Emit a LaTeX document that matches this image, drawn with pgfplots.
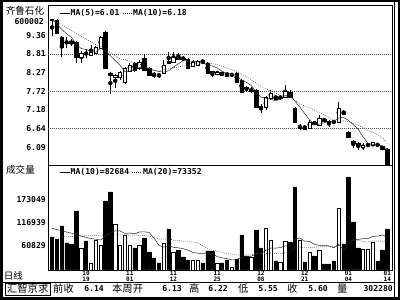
\documentclass[border=0pt]{standalone}
\usepackage{pgfplots}
\pgfplotsset{compat=1.18}
\usepackage{pgfplotstable}
\usepackage{fontspec}
\newfontfamily\cjk{Noto Sans CJK SC}
\newfontfamily\numfont{DejaVu Sans Mono}
\newcommand\nf{\numfont\bfseries\fontsize{8.1}{9}\selectfont}
\newcommand\tf{\numfont\bfseries\fontsize{6}{5.3}\selectfont}
\newcommand\cf{\cjk\fontsize{9.6}{10}\selectfont}

\pgfplotstableread{
i o h l c v ma5 ma10 vma10 vma20
0 9.83 9.84 9.33 9.80 82789 9.83 9.83 104000 82000
1 9.80 9.83 9.40 9.42 77909 9.68 9.75 101000 82500
2 9.31 9.34 8.72 9.01 109629 9.53 9.67 98000 83000
3 9.16 9.31 8.99 9.13 68149 9.40 9.58 95000 83500
4 9.19 9.25 9.04 9.13 65709 9.30 9.50 92000 84000
5 9.16 9.19 8.55 8.72 146229 9.09 9.42 89000 84500
6 8.72 8.90 8.55 8.84 55949 8.97 9.33 85000 85000
7 8.87 8.96 8.69 8.84 73029 8.94 9.25 82000 85500
8 8.78 9.07 8.75 8.87 19349 8.89 9.17 79000 86000
9 8.84 9.04 8.81 9.01 75469 8.86 9.08 77421 86500
10 8.99 9.34 8.96 9.31 63269 8.98 9.03 75469 87000
11 9.45 9.48 8.37 8.40 170629 8.89 8.93 84741 87500
12 8.26 8.28 7.64 8.20 192589 8.76 8.85 93037 88000
13 8.14 8.23 7.82 8.20 114509 8.62 8.76 97673 88000
14 8.14 8.31 8.05 8.28 63269 8.48 8.67 97429 88000
15 7.99 8.43 7.93 8.40 87669 8.30 8.64 91573 87800
16 8.31 8.55 8.28 8.49 63269 8.31 8.60 92305 87500
17 8.55 8.58 8.28 8.34 55949 8.34 8.55 90597 87000
18 8.40 8.64 8.34 8.58 63269 8.42 8.52 94989 86700
19 8.69 8.81 8.31 8.34 80349 8.43 8.45 95477 86449
20 8.40 8.43 8.17 8.20 46189 8.39 8.34 93769 84619
21 8.26 8.28 8.11 8.20 31549 8.33 8.32 79861 82301
22 8.23 8.26 8.11 8.17 19349 8.30 8.32 62537 77787
23 8.26 8.64 8.23 8.49 68149 8.28 8.35 57901 77787
24 8.61 8.87 8.52 8.55 102309 8.32 8.38 61805 79617
25 8.58 8.87 8.55 8.72 46189 8.43 8.41 57657 74615
26 8.72 8.84 8.64 8.66 51069 8.52 8.43 56437 74371
27 8.69 8.72 8.64 8.66 33989 8.62 8.46 54241 72419
28 8.66 8.69 8.37 8.40 26669 8.60 8.44 50581 72785
29 8.46 8.64 8.43 8.58 26669 8.60 8.46 45213 70345
30 8.49 8.64 8.46 8.61 26669 8.58 8.50 43261 68515
31 8.64 8.66 8.52 8.55 19349 8.56 8.54 42041 60951
32 8.55 8.58 8.23 8.26 48629 8.48 8.55 44969 53753
33 8.29 8.31 8.14 8.27 48629 8.46 8.53 43017 50459
34 8.23 8.31 8.20 8.28 19349 8.40 8.50 34721 48263
35 8.28 8.29 8.17 8.20 19349 8.31 8.45 32037 44847
36 8.26 8.28 8.14 8.17 26669 8.24 8.40 29597 43017
37 8.19 8.26 8.14 8.20 9589 8.23 8.35 27157 40699
38 8.26 8.28 7.96 7.99 29109 8.17 8.31 27401 38991
39 8.05 8.08 7.67 7.70 87669 8.05 8.22 33501 39357
40 7.85 7.88 7.70 7.82 36429 7.98 8.15 34477 38869
41 7.73 7.85 7.67 7.76 33989 7.89 8.06 35941 38991
42 7.76 7.79 7.23 7.26 99869 7.70 7.96 41065 43017
43 7.29 7.35 7.09 7.23 55949 7.55 7.86 41797 42407
44 7.26 7.58 7.17 7.55 104749 7.52 7.79 50337 42529
45 7.52 7.76 7.47 7.67 75469 7.49 7.73 55949 43993
46 7.58 7.61 7.47 7.50 24229 7.44 7.67 55705 42651
47 7.52 7.61 7.47 7.55 21789 7.50 7.60 56925 42041
48 7.55 7.90 7.52 7.73 73029 7.60 7.57 61317 44359
49 7.70 7.76 7.52 7.55 70589 7.60 7.56 59609 46555
50 7.23 7.26 6.79 6.82 204789 7.43 7.46 76445 55461
51 6.65 6.77 6.59 6.68 75469 7.26 7.35 80593 58267
52 6.71 6.74 6.59 6.62 21789 7.07 7.29 72785 56925
53 6.65 6.88 6.62 6.82 46189 6.89 7.25 71809 56803
54 6.82 6.85 6.74 6.77 36429 6.74 7.17 64977 57657
55 6.74 7.03 6.71 6.94 51069 6.76 7.10 62537 59243
56 6.91 6.94 6.82 6.85 16909 6.80 7.03 61805 58755
57 6.85 6.88 6.68 6.82 16909 6.84 6.96 61317 59121
58 6.85 6.88 6.77 6.82 24229 6.85 6.87 56437 58877
59 6.82 7.41 6.79 7.23 153549 6.94 6.84 64733 62171
60 7.14 7.17 7.03 7.06 65709 6.96 6.86 50825 63635
61 6.53 6.56 6.36 6.39 229189 6.87 6.84 66197 73395
62 6.27 6.30 6.06 6.21 119389 6.75 6.79 75957 74371
63 6.21 6.24 6.01 6.15 55949 6.61 6.73 76933 74371
64 6.08 6.20 6.01 6.14 53509 6.39 6.66 78641 71809
65 6.13 6.20 6.10 6.15 53509 6.20 6.58 78885 70711
66 6.15 6.22 6.12 6.22 70589 6.17 6.52 84253 73029
67 6.18 6.20 6.11 6.13 24229 6.15 6.45 84985 73151
68 6.10 6.12 6.00 6.03 51069 6.13 6.37 87669 72053
69 6.03 6.06 5.55 5.60 102309 6.02 6.20 82545 73639
}\kdata

\begin{document}
\begin{tikzpicture}
\useasboundingbox (0pt,0pt) rectangle (400pt,300pt);
\fill[white] (0pt,0pt) rectangle (400pt,300pt);
\pgfplotsset{
  pricepanel/.style={scale only axis, width=344pt, height=160pt, anchor=south west,
    at={(48pt,135pt)}, xmin=-0.823, xmax=69.96, ymin=5.568, ymax=10.241,
    axis line style={line width=0.8pt}},
  volpanel/.style={scale only axis, width=344pt, height=105pt, anchor=south west,
    at={(48pt,30pt)}, xmin=-0.823, xmax=69.96, ymin=2269, ymax=258469,
    axis line style={line width=0.8pt}, scaled y ticks=false},
  blank/.style={axis lines=none, xtick=\empty, ytick=\empty},
}
% price: grid, labels, wicks
\begin{axis}[pricepanel,
  ytick={9.36,8.81,8.27,7.72,7.18,6.64,6.09},
  yticklabels={9.36,8.81,8.27,7.72,7.18,6.64,6.09},
  major tick length=0pt, xtick=\empty,
  yticklabel style={font=\nf, inner sep=0pt, xshift=-2pt},
  extra y ticks={8.81,7.72,6.64}, extra y tick labels={},
  extra y tick style={ymajorgrids=true,
    major grid style={black!70, line width=0.5pt, dash pattern=on 0.8pt off 1.2pt}}]
\addplot[black, only marks, mark=none, error bars/.cd, y dir=both, y explicit,
  error mark=none, error bar style={line width=0.6pt, black}]
  table[x=i, y expr={(\thisrow{h}+\thisrow{l})/2}, y error expr={(\thisrow{h}-\thisrow{l})/2}] {\kdata};
\end{axis}
% price: bodies
\begin{axis}[pricepanel, blank, ybar stacked, bar width=3.4pt]
\addplot[draw=none, fill=none] table[x=i, y expr={min(\thisrow{o},\thisrow{c})}] {\kdata};
\addplot[fill=black, draw=black, line width=0.6pt] table[x=i, y expr={\thisrow{o}>\thisrow{c} ? \thisrow{o}-\thisrow{c} : 0}] {\kdata};
\addplot[fill=white, draw=black, line width=0.6pt] table[x=i, y expr={\thisrow{c}>=\thisrow{o} ? \thisrow{c}-\thisrow{o} : 0}] {\kdata};
\end{axis}
% price: moving averages
\begin{axis}[pricepanel, blank]
\addplot[black!85, line width=0.5pt, mark=none] table[x=i, y=ma5] {\kdata};
\addplot[black!75, line width=0.6pt, mark=none, dash pattern=on 0.7pt off 1.3pt] table[x=i, y=ma10] {\kdata};
\end{axis}
% volume
\begin{axis}[volpanel,
  ytick={60829,116939,173049}, yticklabels={60829,116939,173049},
  major tick length=0pt,
  yticklabel style={font=\nf, inner sep=0pt, xshift=-2pt},
  xtick={-1.2,7,16,25,34,43,52,61,69},
  xticklabels={{10\\08},{10\\19},{11\\01},{11\\12},{11\\25},{12\\08},{12\\21},{01\\04},{01\\14}},
  xticklabel style={font=\tf, align=center, inner sep=0pt, yshift=-1.2pt}]
\addplot[ybar, bar width=3.4pt, bar shift=0pt, fill=black, draw=black, line width=0.6pt]
  table[x=i, y expr={\thisrow{o}>\thisrow{c} ? \thisrow{v} : 0}] {\kdata};
\addplot[ybar, bar width=3.4pt, bar shift=0pt, fill=white, draw=black, line width=0.6pt]
  table[x=i, y expr={\thisrow{c}>=\thisrow{o} ? \thisrow{v} : 0}] {\kdata};
\end{axis}
\begin{axis}[volpanel, blank]
\addplot[black!85, line width=0.5pt, mark=none] table[x=i, y=vma10] {\kdata};
\addplot[black!75, line width=0.6pt, mark=none, dash pattern=on 0.7pt off 1.3pt] table[x=i, y=vma20] {\kdata};
\end{axis}
\begin{scope}[x=1pt,y=1pt]
% legends
\draw[line width=0.6pt] (60,287)--(70,287);
\node[anchor=west, inner sep=0pt] at (70.5,287) {\nf MA(5)=6.01};
\draw[line width=0.6pt, dash pattern=on 0.7pt off 1.3pt] (123,287)--(132,287);
\node[anchor=west, inner sep=0pt] at (133,287) {\nf MA(10)=6.18};
\draw[line width=0.6pt] (60,128)--(70,128);
\node[anchor=west, inner sep=0pt] at (70.5,128) {\nf MA(10)=82684};
\draw[line width=0.6pt, dash pattern=on 0.7pt off 1.3pt] (132,128)--(142,128);
\node[anchor=west, inner sep=0pt] at (143,128) {\nf MA(20)=73352};
% left labels
\node[inner sep=0pt] at (25,289) {\cf 齐鲁石化};
\node[anchor=east, inner sep=0pt] at (44,278) {\nf 600002};
\node[inner sep=0pt] at (20.5,130.5) {\cf 成交量};
\node[inner sep=0pt] at (13.5,24.5) {\cf 日线};
% bottom row
\draw[line width=0.8pt] (2,18)--(395,18);
\draw[line width=0.8pt] (5,4.5) rectangle (50.5,17);
\node[inner sep=0pt] at (27.7,11) {\cjk\fontsize{10.3}{11}\selectfont 汇智京求};
\node[anchor=west, inner sep=0pt] at (53,11) {\cjk\fontsize{10.3}{11}\selectfont 前收};
\node[anchor=east, inner sep=0pt] at (104,11) {\nf 6.14};
\node[anchor=west, inner sep=0pt] at (112,11) {\cjk\fontsize{10.3}{11}\selectfont 本周开};
\node[anchor=east, inner sep=0pt] at (182,11) {\nf 6.13};
\node[anchor=west, inner sep=0pt] at (189,11) {\cjk\fontsize{10.3}{11}\selectfont 高};
\node[anchor=east, inner sep=0pt] at (228,11) {\nf 6.22};
\node[anchor=west, inner sep=0pt] at (238,11) {\cjk\fontsize{10.3}{11}\selectfont 低};
\node[anchor=east, inner sep=0pt] at (278,11) {\nf 5.55};
\node[anchor=west, inner sep=0pt] at (287,11) {\cjk\fontsize{10.3}{11}\selectfont 收};
\node[anchor=east, inner sep=0pt] at (328,11) {\nf 5.60};
\node[anchor=west, inner sep=0pt] at (337,11) {\cjk\fontsize{10.3}{11}\selectfont 量};
\node[anchor=east, inner sep=0pt] at (393,11) {\nf 302280};
% frame
\draw[line width=2.5pt] (1.25,1.25) rectangle (398.75,298.75);
\draw[line width=0.8pt] (394.8,2) -- (394.8,298);
\end{scope}
\end{tikzpicture}
\end{document}
